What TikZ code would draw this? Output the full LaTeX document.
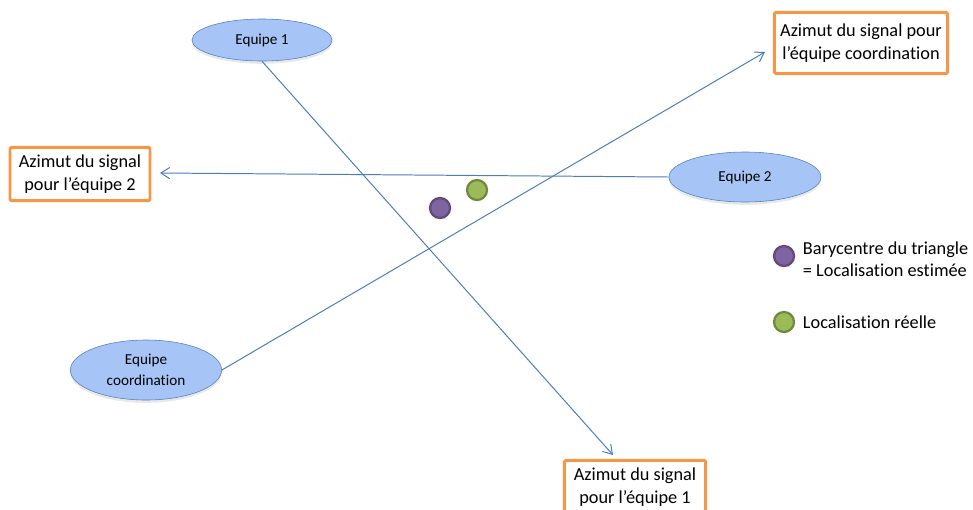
\documentclass[tikz,border=0pt]{standalone}
\usepackage{fontspec}
\setmainfont[Ligatures=NoCommon]{Carlito}
\usetikzlibrary{arrows.meta,positioning,shapes.geometric,shadows}
\definecolor{teamfill}{RGB}{166,196,245}
\definecolor{teamline}{RGB}{79,129,189}
\definecolor{azorange}{RGB}{247,150,70}
\definecolor{azblue}{RGB}{74,126,187}
\definecolor{estfill}{RGB}{128,100,162}
\definecolor{estline}{RGB}{96,74,122}
\definecolor{realfill}{RGB}{155,187,89}
\definecolor{realline}{RGB}{113,137,62}
\tikzset{
  team/.style={ellipse, draw=teamline, fill=teamfill, inner sep=0pt, align=center,
               font=\fontsize{10.8}{15}\selectfont,
               drop shadow={opacity=0.18, shadow xshift=0pt, shadow yshift=-0.07cm}},
  azbox/.style={draw=azorange, line width=2.1pt, fill=white, rounded corners=1pt,
                align=center, inner sep=0pt, font=\fontsize{13}{16}\selectfont},
  azarr/.style={-{Straight Barb[length=2.2mm, width=2.8mm]}, azblue, line width=0.7pt},
  dotest/.style={circle, fill=estfill, draw=estline, line width=1.6pt,
                 minimum size=0.5cm, inner sep=0pt},
  dotreal/.style={circle, fill=realfill, draw=realline, line width=1.6pt,
                  minimum size=0.5cm, inner sep=0pt},
  legtxt/.style={anchor=west, align=left, font=\fontsize{13}{15.6}\selectfont},
}

\begin{document}
\begin{tikzpicture}[x=0.025cm, y=-0.025cm]
    \useasboundingbox (0,0) rectangle (973,509);
    % teams
    \node[team, minimum width=3.5cm, minimum height=1.05cm] (e1) at (262,40) {Equipe 1};
    \node[team, minimum width=3.8cm, minimum height=1.25cm] (e2) at (745,177) {Equipe 2};
    \node[team, minimum width=3.78cm, minimum height=1.5cm] (ec) at (146,370) {Equipe\\coordination};
    % azimuth boxes
    \node[azbox, minimum width=4.33cm, minimum height=1.53cm] (azc) at (861,43) {Azimut du signal pour\\l’équipe coordination};
    \node[azbox, minimum width=3.5cm, minimum height=1.33cm] (az2) at (80,174) {Azimut du signal\\pour l’équipe 2};
    \node[azbox, minimum width=3.53cm, minimum height=1.33cm] (az1) at (635,487) {Azimut du signal\\pour l’équipe 1};
    % arrow tips
    \coordinate (t1) at (613,455);
    \coordinate (t2) at (160,173);
    \coordinate (tc) at (765,52);
    \draw[azarr] (e1.south) -- (t1);
    \draw[azarr] (e2.west) -- (t2);
    \draw[azarr] (ec.east) -- (tc);
    % estimated / real position
    \node[dotest] (est) at (440,208) {};
    \node[dotreal] (real) at (477,190) {};
    % legend
    \node[dotest] (lest) at (784,256) {};
    \node[legtxt] (lestt) at (798,259) {Barycentre du triangle\\= Localisation estimée};
    \node[dotreal] (lreal) at (784,322) {};
    \node[legtxt] (lrealt) at (798,322) {Localisation réelle};
  \end{tikzpicture}
\end{document}
